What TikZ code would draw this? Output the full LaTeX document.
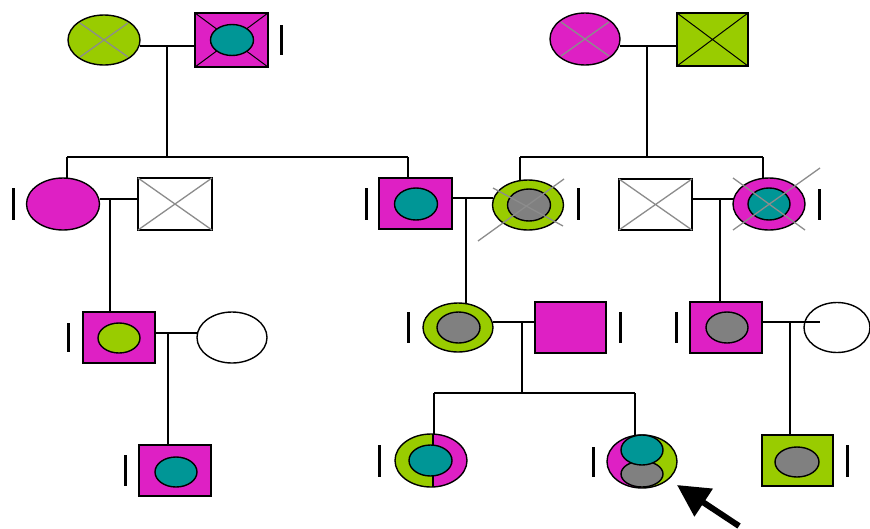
\documentclass[tikz,border=0pt]{standalone}
\usetikzlibrary{shapes.geometric,backgrounds,arrows.meta}
\definecolor{mag}{RGB}{222,32,196}
\definecolor{lime}{RGB}{153,204,0}
\definecolor{tealin}{RGB}{0,150,150}
\definecolor{grayin}{RGB}{128,128,128}
\definecolor{xgray}{RGB}{140,140,140}
\begin{document}
\begin{tikzpicture}[x=1pt,y=-1pt,
  every node/.style={inner sep=0pt, outer sep=0pt},
  outline/.style={draw=black, line width=1.4pt},
  male/.style={outline, rectangle, minimum width=72pt, minimum height=52pt},
  female/.style={outline, ellipse, minimum width=71pt, minimum height=51pt},
  inner/.style={outline, ellipse, minimum width=43pt, minimum height=31pt},
  link/.style={draw=black, line width=1.5pt},
  sidebar/.style={draw=black, line width=3pt},
  xcross/.style={draw=xgray, line width=1.3pt},
  xdark/.style={draw=black, line width=1pt},
  righthalf/.style={path picture={
    \fill[#1] (path picture bounding box.north) rectangle (path picture bounding box.south east);}},
]
\useasboundingbox (0,0) rectangle (870,528);

% ---- generation I ----
\node[female, fill=lime, minimum width=72pt, minimum height=50pt] (g1a) at (104,40) {};
\draw[xcross] ([shift={(-24,-17)}]g1a.center) -- ([shift={(24,17)}]g1a.center)
              ([shift={(-24,17)}]g1a.center) -- ([shift={(24,-17)}]g1a.center);
\node[male, fill=mag, minimum width=73pt, minimum height=54pt] (g1b) at (231.5,40) {};
\draw[xdark] (g1b.north west) -- (g1b.south east) (g1b.north east) -- (g1b.south west);
\node[inner, fill=tealin] (g1bi) at (232,40) {};

\node[female, fill=mag, minimum width=70pt, minimum height=52pt] (g1c) at (585,39) {};
\draw[xcross] ([shift={(-24,-17)}]g1c.center) -- ([shift={(24,17)}]g1c.center)
              ([shift={(-24,17)}]g1c.center) -- ([shift={(24,-17)}]g1c.center);
\node[male, fill=lime, minimum width=71pt, minimum height=53pt] (g1d) at (712.5,39.5) {};
\draw[xdark] (g1d.north west) -- (g1d.south east) (g1d.north east) -- (g1d.south west);

% ---- generation II ----
\node[female, fill=mag, minimum width=73pt, minimum height=52pt] (g2a) at (63,204) {};
\node[male, fill=white, minimum width=74pt] (g2b) at (175,204) {};
\draw[xcross] (g2b.north west) -- (g2b.south east) (g2b.north east) -- (g2b.south west);

\node[male, fill=mag, minimum width=73pt, minimum height=51pt] (g2c) at (415.5,203.5) {};
\node[inner, fill=tealin, minimum height=32pt] (g2ci) at (416,204) {};
\node[female, fill=lime, minimum width=71pt, minimum height=50pt] (g2d) at (528,205) {};
\node[inner, fill=grayin, minimum width=43pt, minimum height=32pt] (g2di) at (529,205) {};
\draw[xcross] ([shift={(-50,36)}]g2d.center) -- ([shift={(36,-26)}]g2d.center)
              ([shift={(-35,-17)}]g2d.center) -- ([shift={(35,21)}]g2d.center);

\node[male, fill=white, minimum width=73pt, minimum height=51pt] (g2e) at (655.5,204.5) {};
\draw[xcross] (g2e.north west) -- (g2e.south east) (g2e.north east) -- (g2e.south west);
\node[female, fill=mag, minimum width=72pt, minimum height=52pt] (g2f) at (769,204) {};
\node[inner, fill=tealin, minimum width=42pt, minimum height=32pt] (g2fi) at (769,204) {};
\draw[xcross] ([shift={(-36,-26)}]g2f.center) -- ([shift={(36,26)}]g2f.center)
              ([shift={(-36,26)}]g2f.center) -- ([shift={(51,-36)}]g2f.center);

% ---- generation III ----
\node[male, fill=mag, minimum height=51pt] (g3a) at (119,337.5) {};
\node[inner, fill=lime, minimum width=42pt, minimum height=30pt] (g3ai) at (119,338) {};
\node[female, fill=white, minimum width=70pt] (g3b) at (232,337.5) {};

\node[female, fill=lime, minimum width=70pt, minimum height=49pt] (g3c) at (458,327.5) {};
\node[inner, fill=grayin, minimum width=43pt, minimum height=31pt] (g3ci) at (458.5,327.5) {};
\node[male, fill=mag, minimum width=71pt, minimum height=51pt] (g3d) at (570.5,327.5) {};

\node[male, fill=mag, minimum height=51pt] (g3e) at (726,327.5) {};
\node[inner, fill=grayin, minimum width=42pt, minimum height=31pt] (g3ei) at (727,327.5) {};
\node[female, fill=white, minimum width=66pt, minimum height=50pt] (g3f) at (837,327.5) {};

% ---- generation IV ----
\node[male, fill=mag, minimum height=51pt] (g4a) at (175,470.5) {};
\node[inner, fill=tealin, minimum width=42pt, minimum height=30pt] (g4ai) at (176,472) {};

\node[female, fill=lime, minimum width=72pt, minimum height=53pt,
      path picture={
        \fill[mag] ([xshift=2pt]path picture bounding box.north) rectangle (path picture bounding box.south east);
        \draw[line width=1.4pt] ([xshift=2pt]path picture bounding box.north) -- ([xshift=2pt]path picture bounding box.south);}]
      (g4b) at (431,460.5) {};
\node[inner, fill=tealin, minimum width=43pt, minimum height=31pt] (g4bi) at (430.5,460.5) {};

\node[female, fill=mag, minimum width=70pt, minimum height=53pt, righthalf=lime] (g4c) at (642,461.5) {};
\node[inner, fill=grayin, minimum width=42pt, minimum height=26pt] (g4cg) at (642,474) {};
\node[inner, fill=tealin, minimum width=42pt, minimum height=30pt] (g4ct) at (642,450) {};

\node[male, fill=lime, minimum width=71pt, minimum height=51pt] (g4d) at (797.5,460.5) {};
\node[inner, fill=grayin, minimum width=44pt, minimum height=30pt] (g4di) at (797,462) {};

% ---- marriage, descent and sibship lines ----
\coordinate (m1) at (167,46);   \coordinate (s1) at (167,157);
\coordinate (s1l) at (67,157);  \coordinate (s1r) at (408,157);
\coordinate (m2) at (647,46);   \coordinate (s2) at (647,157);
\coordinate (s2l) at (520,157); \coordinate (s2r) at (763,157);
\coordinate (m3) at (110,199);
\coordinate (m4) at (466,198);
\coordinate (m5) at (720,199);
\coordinate (m6) at (168,333);
\coordinate (m7) at (522,322);  \coordinate (s4) at (522,393);
\coordinate (s4l) at (434,393); \coordinate (s4r) at (635,393);
\coordinate (m8) at (790,322);  \coordinate (m8end) at (820,322);

\begin{scope}[on background layer]
  \draw[link] (g1a.east |- m1) -- (g1b.west |- m1);
  \draw[link] (m1) -- (s1);
  \draw[link] (s1l) -- (s1r);
  \draw[link] (s1l) -- (s1l |- g2a.north);
  \draw[link] (s1r) -- (s1r |- g2c.north);

  \draw[link] (g1c.east |- m2) -- (g1d.west |- m2);
  \draw[link] (m2) -- (s2);
  \draw[link] (s2l) -- (s2r);
  \draw[link] (s2l) -- (s2l |- g2d.north);
  \draw[link] (s2r) -- (s2r |- g2f.north);

  \draw[link] (g2a.east |- m3) -- (g2b.west |- m3);
  \draw[link] (m3) -- (m3 |- g3a.north);
  \draw[link] (g2c.east |- m4) -- (g2d.west |- m4);
  \draw[link] (m4) -- (m4 |- g3c.north);
  \draw[link] (g2e.east |- m5) -- (g2f.west |- m5);
  \draw[link] (m5) -- (m5 |- g3e.north);

  \draw[link] (g3a.east |- m6) -- (g3b.west |- m6);
  \draw[link] (m6) -- (m6 |- g4a.north);
  \draw[link] (g3c.east |- m7) -- (g3d.west |- m7);
  \draw[link] (m7) -- (s4);
  \draw[link] (s4l) -- (s4r);
  \draw[link] (s4l) -- (s4l |- g4b.north);
  \draw[link] (s4r) -- (s4r |- g4c.north);
  \draw[link] (m8) -- (m8 |- g4d.north);
\end{scope}
\draw[link] (g3e.east |- m8) -- (m8end);

% ---- side bars ----
\draw[sidebar] (281,25) -- (281,55);
\draw[sidebar] (13,188) -- (13,220);
\draw[sidebar] (366,188) -- (366,220);
\draw[sidebar] (578,188) -- (578,220);
\draw[sidebar] (819,189) -- (819,220);
\draw[sidebar] (68,323) -- (68,352);
\draw[sidebar] (408,312) -- (408,343);
\draw[sidebar] (620,312) -- (620,343);
\draw[sidebar] (676,312) -- (676,343);
\draw[sidebar] (125,455) -- (125,486);
\draw[sidebar] (379,445) -- (379,477);
\draw[sidebar] (593,447) -- (593,477);
\draw[sidebar] (847,445) -- (847,477);

% ---- proband arrow ----
\coordinate (ptail) at (739,526);
\coordinate (ptip) at (677,485);
\draw[line width=6pt, -{Triangle[length=32pt,width=32pt]}] (ptail) -- (ptip);
\end{tikzpicture}
\end{document}
